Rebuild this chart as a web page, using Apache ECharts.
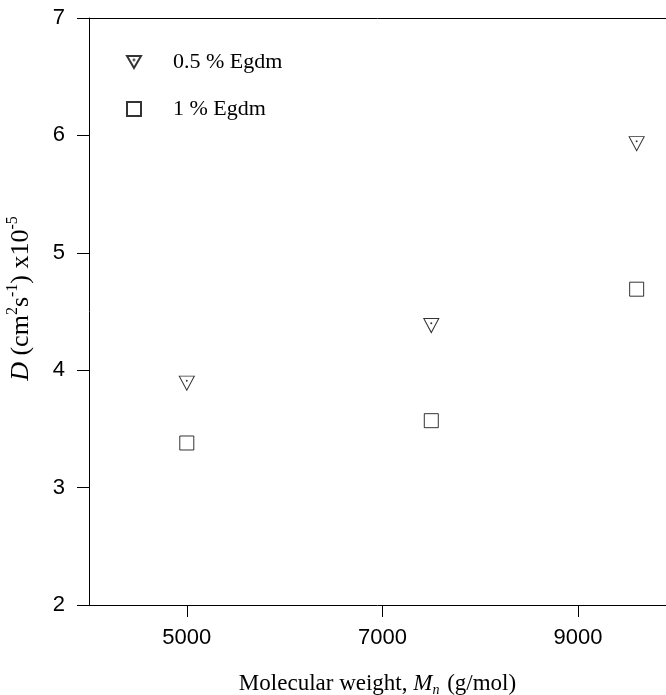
<!DOCTYPE html>
<html>
<head>
<meta charset="utf-8">
<script src="https://cdn.jsdelivr.net/npm/echarts@6/dist/echarts.min.js"></script>
<style>
html,body{margin:0;padding:0;background:#fff;}
#chart{width:666px;height:695px;}
</style>
</head>
<body>
<div id="chart"></div>
<script>
// Data
var molecularWeight = [5000, 7500, 9600];
var egdm05 = [3.89, 4.38, 5.93];
var egdm1 = [3.38, 3.57, 4.69];
var xTickValues = [5000, 7000, 9000];
var seriesNames = ['0.5 % Egdm', '1 % Egdm'];

function pairs(xs, ys) {
  return xs.map(function (x, i) { return [x, ys[i]]; });
}

var triDown = 'path://M0,0L20,0L10,17.3Z M9.4,5.8a0.6,0.6 0 1,0 1.2,0a0.6,0.6 0 1,0 -1.2,0Z';

var chart = echarts.init(document.getElementById('chart'), null, {renderer: 'canvas'});
var lineStyle = {color: '#000', width: 1};
var tickFont = {fontFamily: 'Liberation Sans, Arial, sans-serif', fontSize: 22, color: '#000'};
var serif = 'Liberation Serif, Times New Roman, serif';

chart.setOption({
  backgroundColor: '#fff',
  animation: false,
  grid: {left: 89, top: 18, right: 0, bottom: 90, containLabel: false, outerBoundsMode: 'none'},
  legend: {
    orient: 'vertical',
    left: 121,
    top: 46,
    itemWidth: 14,
    itemHeight: 14,
    itemGap: 25,
    data: seriesNames,
    textStyle: {fontFamily: serif, fontSize: 22, color: '#000', padding: [0, 0, 0, 27]}
  },
  xAxis: [{
    type: 'value',
    min: 4000,
    max: 9900,
    position: 'bottom',
    axisLine: {show: true, lineStyle: lineStyle},
    axisTick: {show: true, inside: false, length: 12, lineStyle: lineStyle, customValues: xTickValues},
    axisLabel: Object.assign({margin: 22, customValues: xTickValues, formatter: function (v) { return String(v); }}, tickFont),
    splitLine: {show: false},
    name: '{n|Molecular weight, }{i|M}{sub|n}{n| (g/mol)}',
    nameLocation: 'middle',
    nameGap: 65,
    nameTextStyle: {
      rich: {
        n: {fontFamily: serif, fontSize: 23, color: '#000', lineHeight: 27},
        i: {fontFamily: serif, fontSize: 23, fontStyle: 'italic', color: '#000', lineHeight: 27},
        sub: {fontFamily: serif, fontSize: 14, fontStyle: 'italic', color: '#000', verticalAlign: 'bottom', lineHeight: 18, padding: [0, 2, 0, 0]}
      }
    }
  }, {
    type: 'value',
    min: 4000,
    max: 9900,
    position: 'top',
    axisLine: {show: true, lineStyle: lineStyle},
    axisTick: {show: false},
    axisLabel: {show: false},
    splitLine: {show: false}
  }],
  yAxis: {
    type: 'value',
    min: 2,
    max: 7,
    interval: 1,
    axisLine: {show: true, lineStyle: lineStyle},
    axisTick: {show: true, inside: false, length: 12, lineStyle: lineStyle},
    axisLabel: Object.assign({margin: 24}, tickFont),
    splitLine: {show: false},
    name: '{i|D}{n| (cm}{sup|2}{n|s}{sup|-1}{n|) x10}{sup|-5}',
    nameLocation: 'middle',
    nameRotate: 90,
    nameGap: 52,
    nameTextStyle: {
      padding: [0, 0, 0, 26],
      rich: {
        n: {fontFamily: serif, fontSize: 26, color: '#000', lineHeight: 32},
        i: {fontFamily: serif, fontSize: 26, fontStyle: 'italic', color: '#000', lineHeight: 32},
        sup: {fontFamily: serif, fontSize: 16, color: '#000', verticalAlign: 'top', lineHeight: 16}
      }
    }
  },
  series: [{
    name: seriesNames[0],
    type: 'scatter',
    symbol: triDown,
    symbolSize: [15, 14],
    itemStyle: {color: '#fff', borderColor: '#000', borderWidth: 1},
    data: pairs(molecularWeight, egdm05)
  }, {
    name: seriesNames[1],
    type: 'scatter',
    symbol: 'rect',
    symbolSize: 14,
    itemStyle: {color: '#fff', borderColor: '#000', borderWidth: 1},
    data: pairs(molecularWeight, egdm1)
  }]
});
</script>
</body>
</html>
